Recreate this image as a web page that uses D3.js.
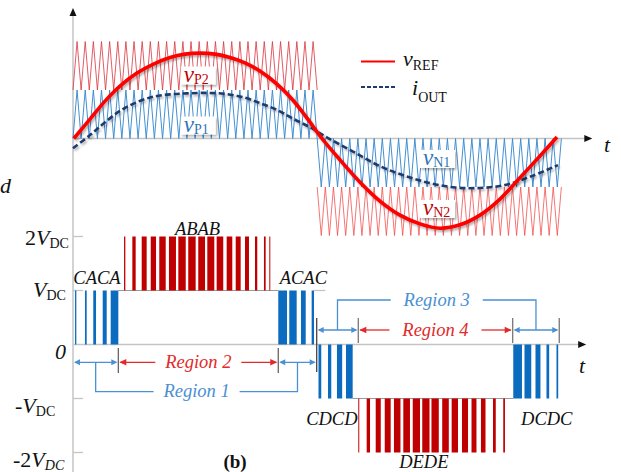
<!DOCTYPE html>
<html><head><meta charset="utf-8">
<script src="https://cdn.jsdelivr.net/npm/d3@7"></script>
<style>
body{margin:0;background:#fff}
svg{display:block}
svg text{font-family:"Liberation Serif","DejaVu Serif",serif}
</style>
</head><body>
<svg id="c" width="621" height="472" font-family="Liberation Serif, DejaVu Serif, serif"></svg>
<script>
// ---------------- DATA ----------------
// time unit = one carrier period
const carrierPeriods = 30;          // carriers per half cycle
const halfCycles = [0, 30];         // start of positive / negative half
// reference voltage v_REF (t, per-unit level)
const vRef = [[0.1,0],[2.09,0.40],[3.93,0.77],[5.77,1.08],[7.86,1.35],[9.83,1.53],[11.92,1.67],[13.76,1.74],[15.6,1.76],[17.44,1.74],[19.29,1.67],[21.13,1.56],[22.97,1.39],[25.06,1.12],[27.03,0.79],[28.75,0.42],[30.59,0],[32.8,-0.44],[35.26,-0.9],[37.71,-1.29],[40.17,-1.58],[42.63,-1.76],[45.09,-1.85],[47.54,-1.78],[50,-1.58],[52.46,-1.25],[54.91,-0.81],[57.37,-0.36],[59.46,0.03]];
// output current i_OUT
const iOut = [[0,-0.2],[2.09,0.07],[3.69,0.3],[5.77,0.57],[7.86,0.75],[9.83,0.86],[11.92,0.91],[14,0.93],[16.22,0.94],[18.67,0.92],[21.13,0.84],[22.97,0.73],[25.06,0.59],[27.03,0.41],[29.12,0.23],[31.33,0.01],[34.4,-0.27],[37.71,-0.57],[40.79,-0.77],[43.86,-0.92],[46.93,-1.01],[50,-1.02],[53.07,-0.96],[56.14,-0.79],[59.58,-0.55]];
// output voltage pulses [tStart, tEnd]
const pulsesCACA = [[0.25,0.41],[1.47,1.68],[2.49,2.83],[3.65,4.14],[4.63,5.57]];
const pulsesABAB = [[6.27,6.43],[7.29,7.7],[8.44,9.05],[9.55,10.2],[10.6,11.39],[11.79,12.65],[12.94,13.85],[14.16,15.07],[15.39,16.22],[16.5,17.36],[17.65,18.46],[18.88,19.57],[19.99,20.6],[21.13,21.62],[22.36,22.64],[23.46,23.67],[24.12,24.24]];
const pulsesACAC = [[25.22,26.29],[26.57,27.48],[28.01,28.59],[29.32,29.61]];
const pulsesCDCD = [[30.16,30.5],[31.33,31.73],[32.43,33.07],[33.54,34.36]];
const pulsesDEDE = [[35.05,35.17],[36.08,36.49],[37.19,37.81],[38.3,39.03],[39.43,40.23],[40.58,41.4],[41.74,42.63],[42.91,43.8],[44.04,44.94],[45.36,46.17],[46.52,47.3],[47.79,48.53],[48.96,49.57],[50.12,50.68],[51.6,51.94],[52.86,53.07]];
const pulsesDCDC = [[54.09,55.16],[55.47,56.3],[56.82,57.43],[58.17,58.5],[59.4,59.61]];
const regionBounds = [0, 5.57, 25.22, 29.94, 35.05, 54.02, 59.74];
const levelTicks = [2, 1, 0, -1, -2];
const levelLabels = [
  [["2","n"],["V","i"],["DC","s"]],
  [["V","i"],["DC","s"]],
  [["0","i"]],
  [["-","n"],["V","i"],["DC","s"]],
  [["-2","n"],["V","i"],["DC","si"]]
];
const stateLabels = ["CACA","ABAB","ACAC","CDCD","DEDE","DCDC"];
const regionNames = ["Region 1","Region 2","Region 3","Region 4"];
const tagLabels = [["v","P2"],["v","P1"],["v","N1"],["v","N2"]];
const legendLabels = [["v","REF"],["i","OUT"]];

// ---------------- DRAW ----------------
const FONT = "Liberation Serif, DejaVu Serif, serif";
const svg = d3.select("#c");
const defs = svg.append("defs");
const f = defs.append("filter").attr("id","sh").attr("x","-10%").attr("y","-10%").attr("width","130%").attr("height","140%");
f.append("feDropShadow").attr("dx",1.5).attr("dy",2).attr("stdDeviation",1.2).attr("flood-color","#000").attr("flood-opacity",0.3);

const x = d3.scaleLinear().domain([0, 63.8]).range([73, 592.3]);
const yT = d3.scaleLinear().domain([-2, 2]).range([235.5, 41.5]);
const yB = d3.scaleLinear().domain([-2, 2]).range([452.5, 236.5]);

const AX = "#c4c4c4";
const BLUE = "#0b6cbf", RED = "#c00000";
const LBLUE = "#4a90d2", LRED = "#e22a2a";

function txt(xx, yy){ return svg.append("text").attr("x",xx).attr("y",yy).attr("font-family",FONT); }

function arrowHead(g, xt, yt, dir, color, len=7, w=3.2){
  let p;
  if(dir==='r') p=`M${xt},${yt}L${xt-len},${yt-w}L${xt-len},${yt+w}Z`;
  else if(dir==='l') p=`M${xt},${yt}L${xt+len},${yt-w}L${xt+len},${yt+w}Z`;
  else p=`M${xt},${yt}L${xt-w},${yt+len}L${xt+w},${yt+len}Z`;
  g.append("path").attr("d",p).attr("fill",color);
}

// axes
svg.append("line").attr("x1",x(0)).attr("x2",x(0)).attr("y1",14).attr("y2",472).attr("stroke",AX).attr("stroke-width",1.5);
arrowHead(svg, x(0), 8, 'u', "#111", 8, 3.5);
svg.append("line").attr("x1",x(0)).attr("x2",x(63.8)-6).attr("y1",yT(0)).attr("y2",yT(0)).attr("stroke",AX).attr("stroke-width",1.5);
arrowHead(svg, x(63.8), yT(0), 'r', "#111", 8, 3.5);
svg.append("line").attr("x1",x(0)).attr("x2",x(63.05)-6).attr("y1",yB(0)).attr("y2",yB(0)).attr("stroke",AX).attr("stroke-width",1.5);
arrowHead(svg, x(63.05), yB(0), 'r', "#111", 8, 3.5);

// carriers
function carrier(t0, lo, hi, startAtLo, color, op){
  const pts = [];
  for(let k=0;k<=carrierPeriods*2;k++){
    const atLo = (k%2===0) === startAtLo;
    pts.push([t0 + k*0.5, atLo ? lo : hi]);
  }
  svg.append("path").datum(pts)
    .attr("d", d3.line().x(d=>x(d[0])).y(d=>yT(d[1])))
    .attr("fill","none").attr("stroke",color).attr("stroke-width",1).attr("opacity",op);
}
carrier(halfCycles[0], 1, 2, true, "#d9363e", 0.8);
carrier(halfCycles[0], 0, 1, true, "#3a8ad0", 0.95);
carrier(halfCycles[1], -1, 0, false, "#3a8ad0", 0.95);
carrier(halfCycles[1], -2, -1, false, "#f24848", 0.75);

// tag labels with white boxes
const tagPos = [[13.6,1.175,RED],[13.6,0.144,"#2e75b6"],[43.0,-0.546,"#2e75b6"],[43.0,-1.577,RED]];
tagLabels.forEach((lb,i)=>{
  const [tt,vv,col] = tagPos[i];
  const bx = x(tt), by = yT(vv);
  svg.append("rect").attr("x",bx-3).attr("y",by-15).attr("width",35).attr("height",18)
    .attr("fill","#fff").attr("filter","url(#sh)");
  const t = txt(bx, by).attr("fill",col);
  t.append("tspan").attr("font-style","italic").attr("font-size",23).text(lb[0]);
  t.append("tspan").attr("font-size",14).attr("dy",2.5).text(lb[1]);
});

// curves
const line = d3.line().x(d=>x(d[0])).y(d=>yT(d[1])).curve(d3.curveCatmullRom.alpha(0.5));
svg.append("path").datum(iOut).attr("d",line).attr("fill","none")
  .attr("stroke","#1f3a6e").attr("stroke-width",2.6).attr("stroke-dasharray","6,3").attr("filter","url(#sh)");
svg.append("path").datum(vRef).attr("d",line).attr("fill","none")
  .attr("stroke","#ff0000").attr("stroke-width",3.6).attr("filter","url(#sh)");

// legend
svg.append("line").attr("x1",361).attr("x2",395).attr("y1",61.5).attr("y2",61.5).attr("stroke","#ff0000").attr("stroke-width",2.2);
svg.append("line").attr("x1",361).attr("x2",395).attr("y1",87).attr("y2",87).attr("stroke","#1f3a6e").attr("stroke-width",2.2).attr("stroke-dasharray","4,2");
[[403,66],[412,95]].forEach((p,i)=>{
  const t = txt(p[0], p[1]).attr("fill","#111");
  t.append("tspan").attr("font-style","italic").attr("font-size",22).text(legendLabels[i][0]);
  t.append("tspan").attr("font-size",14).attr("dy",i===0?4:6.5).text(legendLabels[i][1]);
});

// "t" labels and clipped "d"
txt(604,152).attr("font-style","italic").attr("font-size",22).attr("fill","#111").text("t");
txt(579,373).attr("font-style","italic").attr("font-size",22).attr("fill","#111").text("t");
txt(0,193).attr("font-style","italic").attr("font-size",22).attr("fill","#111").text("d");

// lower part: level ticks
levelTicks.forEach(v=>{
  if(v!==0) svg.append("line").attr("x1",x(0)).attr("x2",x(0)+10).attr("y1",yB(v)).attr("y2",yB(v)).attr("stroke",AX).attr("stroke-width",1.3);
});
svg.append("line").attr("x1",x(pulsesCACA[4][1])).attr("x2",x(pulsesACAC[0][0])).attr("y1",yB(1)).attr("y2",yB(1)).attr("stroke","#9a9a9a").attr("stroke-width",1);
svg.append("line").attr("x1",x(29.61)).attr("x2",x(31.0)).attr("y1",yB(1)).attr("y2",yB(1)).attr("stroke",AX).attr("stroke-width",1.3);
svg.append("line").attr("x1",x(pulsesCDCD[3][1])).attr("x2",x(pulsesDCDC[0][0])).attr("y1",yB(-1)).attr("y2",yB(-1)).attr("stroke","#9a9a9a").attr("stroke-width",1);

// level labels
const lblX = [25, 33, 55, 15, 13];
const lblDy = [8.5, 6.5, 14, 14, 14];
levelLabels.forEach((parts,i)=>{
  const t = txt(lblX[i], yB(levelTicks[i])+lblDy[i]).attr("fill","#111");
  let shifted = false;
  parts.forEach(p=>{
    const s = t.append("tspan").text(p[0]);
    if(p[1]==="i"){ s.attr("font-style","italic").attr("font-size",22); }
    else if(p[1]==="n"){ s.attr("font-size",22); }
    else { s.attr("font-size",14).attr("dy",shifted?0:3); if(p[1]==="si") s.attr("font-style","italic"); shifted=true; }
  });
});

// pulses
function pulses(arr, lo, hi, color){
  svg.append("g").selectAll("rect").data(arr).join("rect")
    .attr("x",d=>x(d[0])).attr("width",d=>Math.max(0.9, x(d[1])-x(d[0])))
    .attr("y",yB(hi)).attr("height",yB(lo)-yB(hi)).attr("fill",color);
}
pulses(pulsesCACA, 0, 1, BLUE);
pulses(pulsesABAB, 1, 2, RED);
pulses(pulsesACAC, 0, 1, BLUE);
pulses(pulsesCDCD, -1, 0, BLUE);
pulses(pulsesDEDE, -2, -1, RED);
pulses(pulsesDCDC, -1, 0, BLUE);

// state labels
const stPos = [[2.95, 283.5],[15.3, 235],[28.3, 283.5],[31.8, 425],[43.1, 467.5],[58.2, 425]];
stateLabels.forEach((s,i)=>{
  txt(x(stPos[i][0]), stPos[i][1]).attr("text-anchor","middle")
    .attr("font-style","italic").attr("font-size",18.5).attr("fill","#111").text(s);
});

// region annotations
const b = regionBounds.map(x);
const yA = 362.3, yC = 330;
function seg(x1,x2,y,col){ svg.append("line").attr("x1",x1).attr("x2",x2).attr("y1",y).attr("y2",y).attr("stroke",col).attr("stroke-width",1.3); }
function vseg(xx,y1,y2,col,w=1.3){ svg.append("line").attr("x1",xx).attr("x2",xx).attr("y1",y1).attr("y2",y2).attr("stroke",col).attr("stroke-width",w); }
vseg(b[1], 348, 373, "#666");
vseg(b[2], 348, 373, "#666");
vseg(b[3], 318, 372, "#444");
vseg(b[4], 318, 343, "#777");
vseg(b[5], 318, 343, "#777");
vseg(b[6], 318, 343, "#777");
function dblArrow(x1,x2,y,col){ seg(x1+2,x2-2,y,col); arrowHead(svg,x1+1,y,'l',col,6,3); arrowHead(svg,x2-1,y,'r',col,6,3); }
dblArrow(b[0], b[1], yA, LBLUE);
dblArrow(b[2], b[3], yA, LBLUE);
dblArrow(b[3], b[4], yC, LBLUE);
dblArrow(b[5], b[6], yC, LBLUE);
function splitArrow(x1,x2,y,col,half,label){
  const m=(x1+x2)/2;
  seg(x1+2,m-half,y,col); seg(m+half,x2-2,y,col);
  arrowHead(svg,x1+1,y,'l',col,7,3.2); arrowHead(svg,x2-1,y,'r',col,7,3.2);
  txt(m, y+5.5).attr("text-anchor","middle").attr("font-style","italic").attr("font-size",18.5).attr("fill",col).text(label);
}
splitArrow(b[1], b[2], yA, LRED, 43, regionNames[1]);
splitArrow(b[4], b[5], yC, LRED, 46, regionNames[3]);
function bracket(xa,xb,y0,y1,col,half,label){
  const m = (xa+xb)/2;
  svg.append("path").attr("d",`M${xa},${y0}V${y1}H${m-half}`).attr("fill","none").attr("stroke",col).attr("stroke-width",1.3);
  svg.append("path").attr("d",`M${m+half},${y1}H${xb}V${y0}`).attr("fill","none").attr("stroke",col).attr("stroke-width",1.3);
  txt(m, y1+5.5).attr("text-anchor","middle").attr("font-style","italic").attr("font-size",18.5).attr("fill",col).text(label);
}
bracket((b[0]+b[1])/2, (b[2]+b[3])/2, yA, 391.7, LBLUE, 43, regionNames[0]);
bracket((b[3]+b[4])/2, (b[5]+b[6])/2, yC, 300, LBLUE, 46, regionNames[2]);

txt(235,468).attr("text-anchor","middle").attr("font-weight","bold").attr("font-size",19).attr("fill","#111").text("(b)");
</script>
</body></html>
